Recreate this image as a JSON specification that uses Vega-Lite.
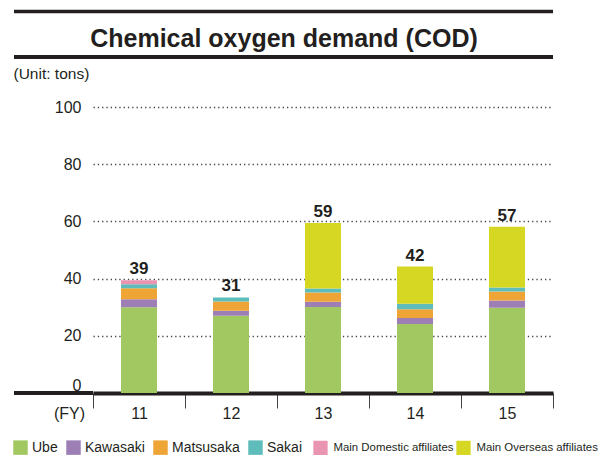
{
  "$schema": "https://vega.github.io/schema/vega-lite/v6.json",
  "autosize": "none",
  "width": 460,
  "height": 286,
  "padding": {"left": 93, "top": 107, "right": 60, "bottom": 64},
  "background": "white",
  "config": {
    "view": {"stroke": null},
    "font": "Liberation Sans",
    "axis": {"labelColor": "#231f20", "titleColor": "#231f20"}
  },
  "title": {
    "text": "Chemical oxygen demand (COD)",
    "font": "Liberation Sans",
    "fontSize": 25,
    "fontWeight": "bold",
    "color": "#231f20",
    "anchor": "middle",
    "offset": 0,
    "baseline": "alphabetic",
    "dy": 62,
    "dx": -39
  },
  "datasets": {
    "cod": [
      {"fy": 11, "source": "Ube", "k": 1, "value": 30.0},
      {"fy": 11, "source": "Kawasaki", "k": 2, "value": 2.8},
      {"fy": 11, "source": "Matsusaka", "k": 3, "value": 3.8},
      {"fy": 11, "source": "Sakai", "k": 4, "value": 1.4},
      {"fy": 11, "source": "Main Domestic affiliates", "k": 5, "value": 1.4},
      {"fy": 12, "source": "Ube", "k": 1, "value": 27.0},
      {"fy": 12, "source": "Kawasaki", "k": 2, "value": 1.8},
      {"fy": 12, "source": "Matsusaka", "k": 3, "value": 3.2},
      {"fy": 12, "source": "Sakai", "k": 4, "value": 1.4},
      {"fy": 13, "source": "Ube", "k": 1, "value": 30.1},
      {"fy": 13, "source": "Kawasaki", "k": 2, "value": 1.8},
      {"fy": 13, "source": "Matsusaka", "k": 3, "value": 3.2},
      {"fy": 13, "source": "Sakai", "k": 4, "value": 1.4},
      {"fy": 13, "source": "Main Overseas affiliates", "k": 6, "value": 22.9},
      {"fy": 14, "source": "Ube", "k": 1, "value": 24.1},
      {"fy": 14, "source": "Kawasaki", "k": 2, "value": 2.1},
      {"fy": 14, "source": "Matsusaka", "k": 3, "value": 3.1},
      {"fy": 14, "source": "Sakai", "k": 4, "value": 1.9},
      {"fy": 14, "source": "Main Overseas affiliates", "k": 6, "value": 13.0},
      {"fy": 15, "source": "Ube", "k": 1, "value": 29.8},
      {"fy": 15, "source": "Kawasaki", "k": 2, "value": 2.5},
      {"fy": 15, "source": "Matsusaka", "k": 3, "value": 3.2},
      {"fy": 15, "source": "Sakai", "k": 4, "value": 1.4},
      {"fy": 15, "source": "Main Overseas affiliates", "k": 6, "value": 21.2}
    ],
    "totals": [
      {"fy": 11, "label": "39"},
      {"fy": 12, "label": "31"},
      {"fy": 13, "label": "59"},
      {"fy": 14, "label": "42"},
      {"fy": 15, "label": "57"}
    ]
  },
  "layer": [
    {
      "data": {"name": "cod"},
      "mark": {"type": "bar", "size": 36, "strokeWidth": 0},
      "encoding": {
        "x": {"field": "fy", "type": "quantitative",
              "scale": {"domain": [10.5, 15.5], "nice": false, "zero": false, "padding": 0},
              "axis": {"orient": "bottom", "values": [10.5, 11.5, 12.5, 13.5, 14.5, 15.5],
                       "labelExpr": "datum.value < 15 ? format(datum.value + 0.5, 'd') : ''",
                       "labelOffset": 46, "labelFlush": false, "labelOverlap": false, "labelBound": false,
                       "labelFontSize": 16, "labelPadding": 5, "labelBaseline": "middle",
                       "tickSize": 15, "tickColor": "#444444", "tickWidth": 1,
                       "domain": true, "domainWidth": 4, "domainColor": "#231f20", "grid": false,
                       "title": "(FY)", "titleFontSize": 16, "titleFontWeight": "normal",
                       "titleX": -24, "titleY": 20, "titleAlign": "center", "titleBaseline": "middle"}},
        "y": {"field": "value", "type": "quantitative", "stack": "zero",
              "scale": {"domain": [0, 100], "nice": false, "zero": true},
              "axis": {"orient": "left", "values": [0, 20, 40, 60, 80, 100],
                       "domain": false, "ticks": false, "labelPadding": 12, "labelFontSize": 16,
                       "labelBaseline": {"condition": {"test": "datum.value === 0", "value": "bottom"}, "value": "middle"},
                       "grid": true, "gridColor": "#444444", "gridWidth": 1.4, "gridDash": [1.3, 3],
                       "gridOpacity": {"condition": {"test": "datum.value === 0", "value": 0}, "value": 1},
                       "title": "(Unit: tons)", "titleAngle": 0, "titleAlign": "left", "titleBaseline": "middle",
                       "titleFontSize": 15.5, "titleFontWeight": "normal", "titleX": -80, "titleY": -34}},
        "fill": {"field": "source", "type": "nominal",
                 "scale": {"domain": ["Ube", "Kawasaki", "Matsusaka", "Sakai", "Main Domestic affiliates", "Main Overseas affiliates"],
                           "range": ["#a2c862", "#9d7fb6", "#efa536", "#5ebdba", "#e994b0", "#d5d722"]},
                 "legend": {"values": ["Ube", "Kawasaki", "Matsusaka", "Sakai"],
                            "orient": "none", "legendX": -80, "legendY": 333, "direction": "horizontal", "title": null,
                            "symbolType": "square", "symbolSize": 210, "symbolStrokeWidth": 0, "symbolOpacity": 1,
                            "labelFontSize": 14, "labelColor": "#231f20", "labelOffset": 4, "columnPadding": 8, "padding": 0,
                            "labelLimit": 300}},
        "stroke": {"field": "source", "type": "nominal",
                   "scale": {"domain": ["Main Domestic affiliates", "Main Overseas affiliates"],
                             "range": ["#e994b0", "#d5d722"]},
                   "legend": {"orient": "none", "legendX": 220, "legendY": 333, "direction": "horizontal", "title": null,
                              "symbolType": "square", "symbolSize": 53, "symbolStrokeWidth": 7, "symbolOpacity": 1,
                              "symbolFillColor": "transparent",
                              "labelFontSize": 11.4, "labelColor": "#231f20", "labelOffset": 5.5, "columnPadding": -9, "padding": 0,
                              "labelLimit": 300}},
        "order": {"field": "k", "type": "quantitative", "sort": "ascending"}
      }
    },
    {
      "data": {"values": [{}]},
      "mark": {"type": "rule", "color": "#231f20", "strokeWidth": 4, "clip": false},
      "encoding": {
        "x": {"datum": 9.6413, "type": "quantitative"},
        "x2": {"datum": 10.5},
        "y": {"datum": 0, "type": "quantitative"}
      }
    },
    {
      "data": {"values": [{}]},
      "mark": {"type": "rule", "color": "#231f20", "strokeWidth": 4, "clip": false},
      "encoding": {
        "x": {"datum": 9.6413, "type": "quantitative"},
        "x2": {"datum": 15.5},
        "y": {"datum": 117.5, "type": "quantitative"}
      }
    },
    {
      "data": {"values": [{}]},
      "mark": {"type": "rule", "color": "#231f20", "strokeWidth": 3.5, "clip": false},
      "encoding": {
        "x": {"datum": 9.6413, "type": "quantitative"},
        "x2": {"datum": 15.5},
        "y": {"datum": 133.4, "type": "quantitative"}
      }
    },
    {
      "data": {"name": "cod"},
      "transform": [
        {"aggregate": [{"op": "sum", "field": "value", "as": "top"}], "groupby": ["fy"]},
        {"lookup": "fy", "from": {"data": {"name": "totals"}, "key": "fy", "fields": ["label"]}}
      ],
      "mark": {"type": "text", "font": "Liberation Sans", "fontSize": 17, "fontWeight": "bold", "color": "#231f20", "baseline": "alphabetic", "dy": -6},
      "encoding": {
        "x": {"field": "fy", "type": "quantitative"},
        "y": {"field": "top", "type": "quantitative"},
        "text": {"field": "label", "type": "nominal"}
      }
    }
  ]
}
